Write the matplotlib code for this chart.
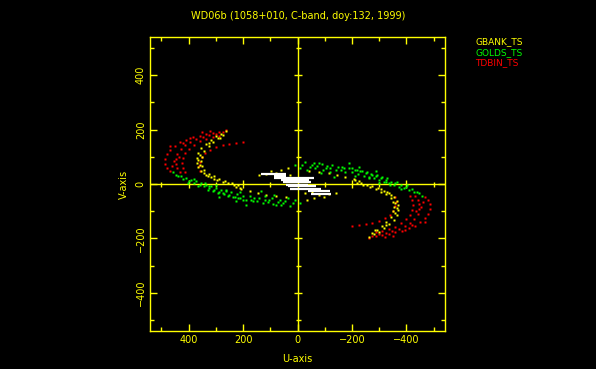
import numpy as np
import matplotlib
matplotlib.use('Agg')
import matplotlib.pyplot as plt

# uv points (u > 0 half, conjugates are plotted too)
red_u = [262, 287, 311, 336, 360, 385, 409, 431, 450, 467, 480, 487, 487, 480, 467,
         275, 299, 324, 348, 373, 394, 413, 428, 441, 447, 447, 441, 431,
         287, 311, 336, 360, 381, 399, 412, 421, 424, 420, 412,
         201, 225, 251, 275, 299, 320, 339, 352, 360, 362, 360,
         455, 470, 420, 395, 350, 320, 460, 435]
red_v = [197, 192, 187, 182, 178, 171, 163, 153, 141, 126, 110, 92, 75, 59, 46,
         190, 185, 179, 173, 165, 156, 143, 129, 111, 93, 75, 57, 43,
         178, 171, 165, 157, 144, 130, 114, 96, 77, 59, 43,
         154, 151, 147, 142, 136, 126, 114, 99, 82, 65, 48,
         85, 140, 150, 170, 190, 195, 65, 100]

yellow_u = [262, 282, 300, 317, 336, 353, 364, 370, 370, 364, 353, 336, 317, 296, 275, 254, 233, 211,
            275, 293, 311, 327, 342, 350, 354, 351, 342, 326, 308, 287, 265, 242, 219,
            225, 207, 176, 146, 115, 78, 42,
            140, 115, 96, 78, 60, 36, 29, 54,
            358, 360, 345, 305, 285, 325, 365, 330]
yellow_v = [193, 185, 175, 163, 148, 132, 114, 96, 77, 61, 46, 34, 24, 16, 8, 2, -5, -13,
            181, 169, 154, 138, 120, 101, 83, 65, 50, 38, 28, 19, 11, 4, -4,
            -11, -18, -27, -33, -39, -43, -46,
            34, 38, 46, 40, 53, 59, 34, 28,
            105, 70, 40, 20, 170, 150, 88, 28]

green_u = [458, 447, 428, 410, 392, 373, 355, 336, 318, 300, 282, 263, 245, 221, 201,
           403, 367, 330, 293, 256, 219,
           311, 275, 238, 201, 164, 128, 91, 54, 17,
           324, 262, 213, 176, 140, 103, 66, 36,
           287, 189, 225, 78, 29, 133, 85, 121, -11,
           440, 420, 400, 380, 360, 345, 325, 305, 290, 270, 250, 230, 210, 190,
           170, 150, 110, 70, 45, 160, 120, 95, 60, 10, 300, 340, 380]
green_v = [43, 34, 28, 21, 16, 10, 4, -4, -9, -15, -21, -25, -31, -36, -43,
           4, -9, -21, -33, -43, -51,
           -27, -33, -46, -58, -64, -70, -72, -70, -68,
           -9, -21, -31, -43, -51, -58, -58, -51,
           -46, -76, -64, -76, -82, -27, -39, -58, -71,
           30, 20, 12, 4, -2, -8, -15, -22, -28, -35, -40, -48, -52, -58,
           -60, -62, -66, -66, -62, -50, -45, -52, -78, -60, -5, 5, 20]

# white short-baseline streaks: v, u start, u end
white_v = [38, 28, 22, 13, 6, -3, -9, -18, -27, -36]
white_u0 = [133, 85, 85, 62, 54, 42, 36, 29, -38, -50]
white_u1 = [42, 42, -62, -42, -50, -37, -67, -87, -118, -123]

labels = ['GBANK_TS', 'GOLDS_TS', 'TDBIN_TS']

YEL = '#ffff00'

fig = plt.figure(figsize=(5.96, 3.69), dpi=100, facecolor='black')
ax = fig.add_axes([150 / 596, 38 / 369, 295 / 596, 294 / 369], facecolor='black')


def conj(u, v):
    u = np.asarray(u, float)
    v = np.asarray(v, float)
    return np.r_[u, -u], np.r_[v, -v]


for uu, vv, c in [(red_u, red_v, '#ff0000'), (yellow_u, yellow_v, YEL),
                  (green_u, green_v, '#00ff00')]:
    cu, cv = conj(uu, vv)
    ax.plot(cu, cv, 's', ms=1.7, mec='none', color=c, zorder=3)

ax.hlines(white_v, white_u0, white_u1, colors='white', lw=1.6, zorder=4)

# centre axes with their ticks
ax.axhline(0, color=YEL, lw=1, zorder=2)
ax.axvline(0, color=YEL, lw=1, zorder=2)
maj = np.array([-400, -200, 200, 400])
mnr = np.array([-500, -300, -100, 100, 300, 500])
ax.plot(maj, np.zeros_like(maj), '|', color=YEL, ms=5.8, mew=1)
ax.plot(mnr, np.zeros_like(mnr), '|', color=YEL, ms=3.6, mew=1)
ax.plot(np.zeros_like(maj), maj, '_', color=YEL, ms=5.8, mew=1)
ax.plot(np.zeros_like(mnr), mnr, '_', color=YEL, ms=3.6, mew=1)

ax.set_xlim(542, -542)
ax.set_ylim(-540, 540)
ax.set_xticks([400, 200, 0, -200, -400])
ax.set_yticks([-400, -200, 0, 200, 400])
ax.set_xticks(np.arange(-500, 501, 100), minor=True)
ax.set_yticks(np.arange(-500, 501, 100), minor=True)
ax.tick_params(which='both', direction='in', top=True, right=True, color=YEL,
               labelcolor=YEL, labelsize=7, width=1)
ax.tick_params(which='major', length=5)
ax.tick_params(which='minor', length=3)
ax.tick_params(axis='y', labelrotation=90, pad=3)
ax.tick_params(axis='x', pad=3)
for lab in ax.get_yticklabels():
    lab.set_va('center')
for s in ax.spines.values():
    s.set_color(YEL)
    s.set_linewidth(1)

ax.set_xlabel('U-axis', color=YEL, fontsize=7, labelpad=6)
ax.set_ylabel('V-axis', color=YEL, fontsize=7, labelpad=5)
fig.text(298 / 596, 1 - 16 / 369, 'WD06b (1058+010, C-band, doy:132, 1999)',
         color=YEL, fontsize=7, ha='center', va='center')

for lab, c, y in zip(labels, [YEL, '#00ff00', '#ff0000'], [42, 53, 63]):
    fig.text(475 / 596, 1 - y / 369, lab, color=c, fontsize=6.5, ha='left', va='center')

fig.savefig('out.png', dpi=100, facecolor='black')
